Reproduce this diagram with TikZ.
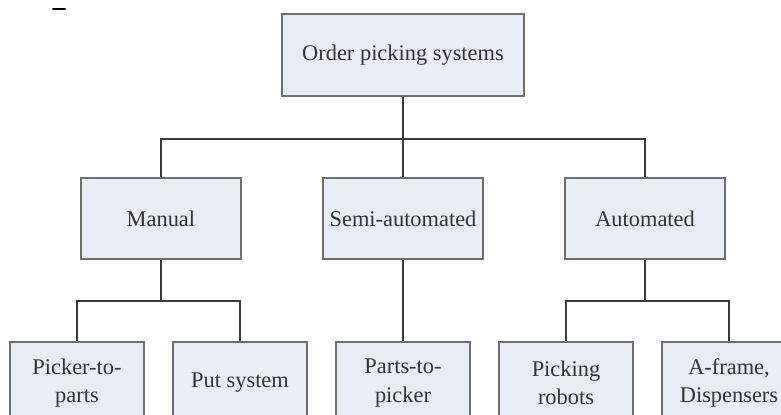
\documentclass[tikz,border=0pt]{standalone}
\usepackage{fontspec}
\setmainfont{Liberation Serif}
\usetikzlibrary{positioning}
\definecolor{boxfill}{HTML}{E8ECF5}
\definecolor{boxline}{HTML}{6E6E6E}
\definecolor{boxtext}{HTML}{333333}
\definecolor{linkline}{HTML}{3A3A3A}

\begin{document}
\begin{tikzpicture}[every node/.style={font=\fontsize{11.2}{14.2}\selectfont}]

    % Styles for the tree
    \tikzset{
        rootbox/.style={draw=boxline, fill=boxfill, line width=1pt, text=boxtext, align=center, minimum width=121pt, minimum height=41pt},
        classbox/.style={draw=boxline, fill=boxfill, line width=1pt, text=boxtext, align=center, minimum width=80pt, minimum height=40.5pt},
        leafbox/.style={draw=boxline, fill=boxfill, line width=1pt, text=boxtext, align=center, minimum width=67pt, minimum height=41pt},
        link/.style={draw=linkline, line width=0.8pt}
    }

    \useasboundingbox (0,0) rectangle (390.5pt,-207.5pt);
    \clip (0,0) rectangle (390.5pt,-207.5pt);

    % Stray mark at the top left
    \draw[line width=1pt, line cap=round] (26.5pt,-4.75pt) -- (32.5pt,-4.75pt);

    % Root
    \node[rootbox] (top) at (201.5pt,-27.5pt) {Order picking systems};

    % Second level
    \node[classbox, below=40pt of top] (semi) {Semi-automated};
    \node[classbox, left=40pt of semi] (manual) {Manual};
    \node[classbox, right=40pt of semi] (auto) {Automated};

    % Third level
    \node[leafbox, below=40.5pt of semi] (parts) {Parts-to-\\picker};
    \node[leafbox, left=13.5pt of parts] (put) {Put system};
    \node[leafbox, left=13.5pt of put] (picker) {Picker-to-\\parts};
    \node[leafbox, right=13.5pt of parts] (robots) {Picking\\robots};
    \node[leafbox, right=13.5pt of robots] (aframe) {A-frame,\\Dispensers};

    % Connectors
    \draw[link] (top.south) -- (semi.north);
    \draw[link] (top.south) -- ++(0,-21pt) -| (manual.north);
    \draw[link] (top.south) -- ++(0,-21pt) -| (auto.north);
    \draw[link] (manual.south) -- ++(0,-20.5pt) -| (picker.north);
    \draw[link] (manual.south) -- ++(0,-20.5pt) -| (put.north);
    \draw[link] (semi.south) -- (parts.north);
    \draw[link] (auto.south) -- ++(0,-20.5pt) -| (robots.north);
    \draw[link] (auto.south) -- ++(0,-20.5pt) -| (aframe.north);

\end{tikzpicture}
\end{document}
